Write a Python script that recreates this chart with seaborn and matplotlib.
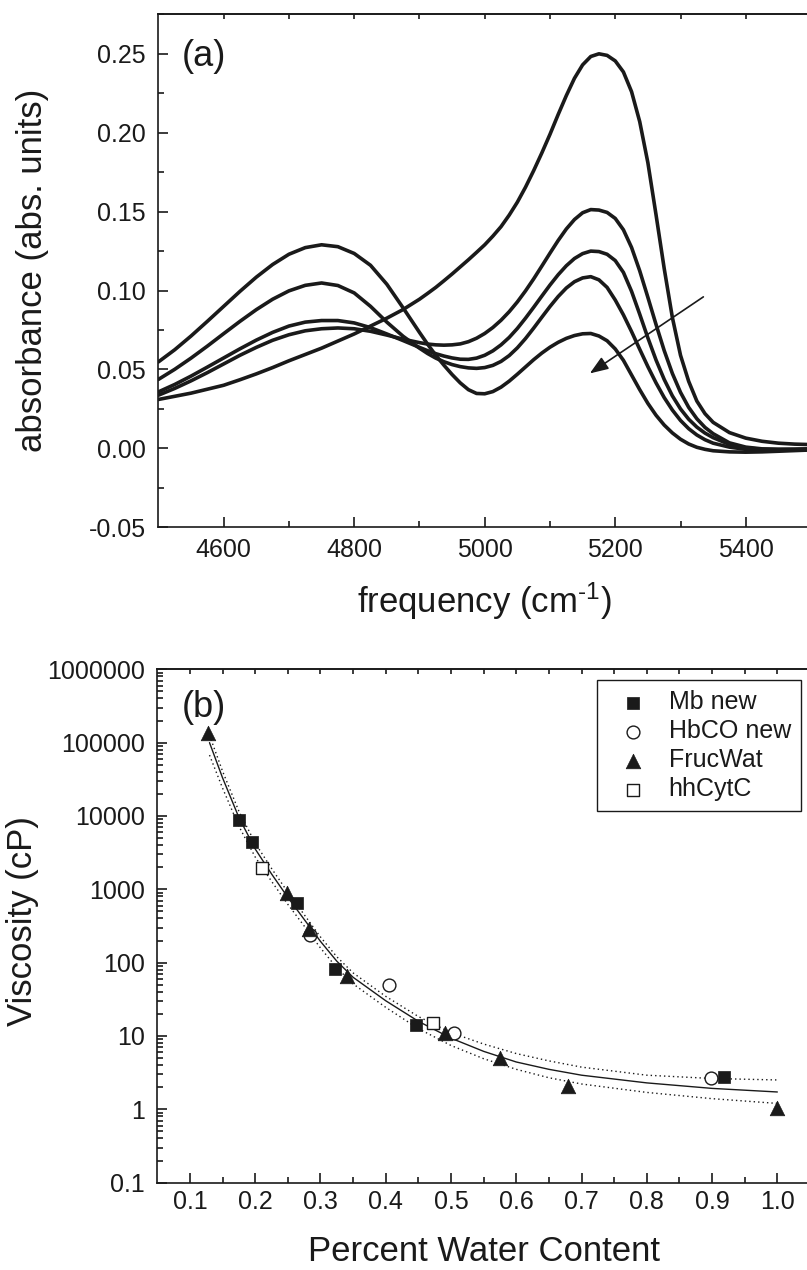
import numpy as np
import pandas as pd
import matplotlib
matplotlib.use('Agg')
import matplotlib.pyplot as plt
import seaborn as sns
from matplotlib.ticker import FixedLocator, LogLocator, FuncFormatter, NullFormatter

# ---------------- data: panel (a) absorbance spectra ----------------
# frequency grid: coarse on the flat parts, finer where the bands are
freq = np.concatenate([np.arange(4500, 4876, 25),
                       np.arange(4900, 5350.1, 12.5),
                       np.arange(5375, 5501, 25)])

abs_p25 = [.0310, .0330, .0350, .0375, .0400, .0435, .0472, .0512, .0555, .0595,
           .0635, .0680, .0725, .0775, .0825, .0880,
           .0945, .0982, .1020, .1062, .1105, .1150, .1195, .1242, .1290,
           .1345, .1405, .1478, .1560, .1655, .1760, .1872, .1990,
           .2115, .2235, .2345, .2430, .2483, .2500, .2490, .2455,
           .2385, .2260, .2070, .1810, .1480, .1140, .0830, .0590,
           .0425, .0300, .0220, .0165,
           .0100, .0065, .0045, .0033, .0027, .0024]
abs_p15 = [.0337, .0380, .0428, .0480, .0535, .0590, .0640, .0685, .0720, .0745,
           .0758, .0763, .0758, .0742, .0718, .0692,
           .0670, .0661, .0656, .0654, .0656, .0662, .0676, .0698, .0728,
           .0766, .0812, .0866, .0928, .0998, .1074, .1155, .1237,
           .1317, .1390, .1450, .1493, .1513, .1510, .1495, .1457,
           .1385, .1273, .1125, .0957, .0785, .0620, .0475, .0355,
           .0260, .0188, .0133, .0093,
           .0035, .0008, -.0003, -.0005, -.0005, -.0003]
abs_p125 = [.0358, .0405, .0458, .0515, .0573, .0631, .0686, .0735, .0775, .0800,
            .0810, .0810, .0795, .0765, .0725, .0683,
            .0640, .0619, .0600, .0585, .0573, .0565, .0564, .0572, .0590,
            .0618, .0656, .0703, .0760, .0825, .0894, .0965, .1035,
            .1100, .1157, .1203, .1234, .1250, .1247, .1230, .1190,
            .1115, .0995, .0850, .0700, .0560, .0437, .0333, .0250,
            .0185, .0135, .0097, .0068,
            .0025, .0003, -.0006, -.0008, -.0006, -.0004]
abs_p108 = [.0437, .0501, .0572, .0648, .0727, .0805, .0879, .0945, .0998, .1033,
            .1048, .1032, .0985, .0900, .0800, .0710,
            .0635, .0601, .0572, .0549, .0531, .0518, .0510, .0507, .0512,
            .0526, .0551, .0588, .0637, .0696, .0762, .0831, .0899,
            .0962, .1016, .1056, .1080, .1088, .1068, .1020, .0940,
            .0846, .0740, .0628, .0518, .0415, .0322, .0243, .0177,
            .0125, .0085, .0055, .0033,
            .0008, -.0006, -.0010, -.0011, -.0009, -.0007]
abs_p07 = [.0548, .0625, .0712, .0805, .0900, .0995, .1085, .1165, .1230, .1272,
           .1290, .1278, .1235, .1160, .1040, .0890,
           .0735, .0660, .0590, .0527, .0468, .0415, .0372, .0348, .0346,
           .0360, .0388, .0426, .0470, .0516, .0562, .0604, .0641,
           .0672, .0697, .0715, .0726, .0728, .0712, .0682, .0630,
           .0558, .0465, .0372, .0285, .0210, .0148, .0098, .0058,
           .0028, .0007, -.0006, -.0015,
           -.0022, -.0024, -.0022, -.0018, -.0014, -.0010]
sample_names = ['s1', 's2', 's3', 's4', 's5']

# arrow (start / end in data units)
arrow_start = (5335, 0.096)
arrow_end = (5161, 0.0475)

# ---------------- data: panel (b) viscosity ----------------
mb_x = [0.1756, 0.1955, 0.2634, 0.3226, 0.447, 0.919]
mb_y = [8700, 4400, 645, 81.5, 14.0, 2.73]
hbco_x = [0.2838, 0.405, 0.505, 0.899]
hbco_y = [235, 49, 11.1, 2.70]
fruc_x = [0.128, 0.249, 0.2828, 0.340, 0.4906, 0.575, 0.680, 1.0]
fruc_y = [136000, 880, 284, 66, 11.0, 4.97, 2.08, 1.03]
cytc_x = [0.2103, 0.4725]
cytc_y = [1945, 14.8]

# fit curve and its band (log10 of viscosity)
fit_x = [0.13, 0.15, 0.175, 0.2, 0.225, 0.25, 0.275, 0.3, 0.325, 0.35,
         0.4, 0.45, 0.5, 0.55, 0.6, 0.65, 0.7, 0.8, 0.9, 1.0]
fit_log = [5.00, 4.52, 3.98, 3.55, 3.21, 2.89, 2.59, 2.29, 2.02, 1.80,
           1.48, 1.20, 0.97, 0.79, 0.645, 0.545, 0.465, 0.36, 0.285, 0.236]
upper_log = [5.10, 4.61, 4.065, 3.63, 3.285, 2.96, 2.655, 2.35, 2.08, 1.86,
             1.54, 1.265, 1.045, 0.89, 0.76, 0.66, 0.575, 0.465, 0.42, 0.40]
lower_log = [4.83, 4.38, 3.86, 3.44, 3.11, 2.795, 2.50, 2.20, 1.93, 1.71,
             1.39, 1.10, 0.87, 0.69, 0.545, 0.43, 0.345, 0.23, 0.145, 0.08]

# ---------------- style ----------------
sns.set_theme(style='ticks', rc={'text.color': 'k', 'axes.labelcolor': 'k',
                                 'xtick.color': 'k', 'ytick.color': 'k',
                                 'axes.edgecolor': 'k'})
plt.rcParams['font.family'] = ['Liberation Sans', 'DejaVu Sans']
plt.rcParams['mathtext.fontset'] = 'custom'
plt.rcParams['mathtext.rm'] = 'Liberation Sans'
plt.rcParams['mathtext.it'] = 'Liberation Sans:italic'
plt.rcParams['axes.unicode_minus'] = False

fig = plt.figure(figsize=(8.07, 12.7), dpi=100)
ax1 = fig.add_axes([0.1963, 0.5848, 0.8087, 0.4039])
ax2 = fig.add_axes([0.1949, 0.0688, 0.8088, 0.4042])


def style_axis(ax, xpad):
    for sp in ax.spines.values():
        sp.set_linewidth(1.2)
        sp.set_color('k')
    ax.tick_params(which='both', direction='in', top=False, right=False,
                   labelsize=18, width=1.2)
    ax.tick_params(axis='y', which='both', pad=9)
    ax.tick_params(axis='x', which='both', pad=xpad)
    ax.tick_params(which='major', length=7.5)
    ax.tick_params(which='minor', length=4)


# ---------------- panel (a) ----------------
spectra = pd.DataFrame({
    'freq': np.tile(freq, 5),
    'absorbance': np.concatenate([abs_p25, abs_p15, abs_p125, abs_p108, abs_p07]),
    'sample': np.repeat(sample_names, len(freq)),
})
sns.lineplot(data=spectra, x='freq', y='absorbance', units='sample',
             estimator=None, color='k', lw=2.6, ax=ax1, legend=False)
ax1.annotate('', xy=arrow_end, xytext=arrow_start,
             arrowprops=dict(arrowstyle='-|>,head_length=0.8,head_width=0.3',
                             color='k', lw=1.2, mutation_scale=14,
                             shrinkA=0, shrinkB=0))
ax1.set_xlim(4500, 5500)
ax1.set_ylim(-0.05, 0.275)
style_axis(ax1, xpad=7.5)
ax1.xaxis.set_major_locator(FixedLocator([4600, 4800, 5000, 5200, 5400]))
ax1.xaxis.set_minor_locator(FixedLocator([4700, 4900, 5100, 5300]))
ax1.yaxis.set_major_locator(FixedLocator(np.arange(-0.05, 0.26, 0.05)))
ax1.yaxis.set_minor_locator(FixedLocator(np.arange(-0.025, 0.28, 0.05)))
ax1.yaxis.set_major_formatter(FuncFormatter(lambda v, p: f'{v:.2f}'))
sec1 = ax1.secondary_xaxis('top')
sec1.set_xticks(np.arange(4600, 5500, 100))
sec1.tick_params(direction='in', length=3.5, width=1.2, labeltop=False)
sec1.spines['top'].set_linewidth(1.2)
ax1.set_xlabel(r'frequency (cm$^{\text{-}1}$)', fontsize=25)
ax1.set_ylabel('absorbance (abs. units)', fontsize=25)
ax1.xaxis.set_label_coords(0.5, -0.103)
ax1.yaxis.set_label_coords(-0.168, 0.5)
ax1.text(0.036, 0.917, '(a)', transform=ax1.transAxes, fontsize=26,
         ha='left', va='center')

# ---------------- panel (b) ----------------
fit = pd.DataFrame({'x': fit_x,
                    'fit': np.power(10.0, fit_log),
                    'upper': np.power(10.0, upper_log),
                    'lower': np.power(10.0, lower_log)})
sns.lineplot(data=fit, x='x', y='fit', color='k', lw=1.0, ax=ax2)
sns.lineplot(data=fit, x='x', y='upper', color='k', lw=1.0,
             linestyle=(0, (1, 2.2)), ax=ax2)
sns.lineplot(data=fit, x='x', y='lower', color='k', lw=1.0,
             linestyle=(0, (1, 2.2)), ax=ax2)

sns.scatterplot(x=mb_x, y=mb_y, marker='s', s=64, color='k', edgecolor='k',
                linewidth=0.5, label='Mb new', ax=ax2, zorder=3)
sns.scatterplot(x=hbco_x, y=hbco_y, marker='o', s=85, facecolor='white',
                edgecolor='k', linewidth=1.0, label='HbCO new', ax=ax2, zorder=3)
sns.scatterplot(x=fruc_x, y=fruc_y, marker='^', s=110, color='k', edgecolor='k',
                linewidth=0.5, label='FrucWat', ax=ax2, zorder=3)
sns.scatterplot(x=cytc_x, y=cytc_y, marker='s', s=64, facecolor='white',
                edgecolor='k', linewidth=1.0, label='hhCytC', ax=ax2, zorder=3)

ax2.set_yscale('log')
ax2.set_xlim(0.05, 1.05)
ax2.set_ylim(0.1, 1e6)
style_axis(ax2, xpad=5.5)
ax2.xaxis.set_major_locator(FixedLocator(np.arange(0.1, 1.01, 0.1)))
ax2.xaxis.set_minor_locator(FixedLocator(np.arange(0.15, 1.05, 0.1)))
ax2.xaxis.set_major_formatter(FuncFormatter(lambda v, p: f'{v:.1f}'))
ax2.yaxis.set_major_locator(LogLocator(base=10, numticks=20))
ax2.yaxis.set_minor_locator(LogLocator(base=10, subs=np.arange(2, 10), numticks=20))
ax2.yaxis.set_minor_formatter(NullFormatter())
ax2.yaxis.set_major_formatter(FuncFormatter(
    lambda v, p: f'{v:.0f}' if v >= 1 else f'{v:g}'))
sec2 = ax2.secondary_xaxis('top')
sec2.set_xticks(np.arange(0.1, 1.05, 0.05))
sec2.tick_params(direction='in', length=3.5, width=1.2, labeltop=False)
sec2.spines['top'].set_linewidth(1.2)
ax2.set_xlabel('Percent Water Content', fontsize=25)
ax2.set_ylabel('Viscosity (cP)', fontsize=25)
ax2.xaxis.set_label_coords(0.5, -0.103)
ax2.yaxis.set_label_coords(-0.181, 0.51)
ax2.text(0.037, 0.925, '(b)', transform=ax2.transAxes, fontsize=26,
         ha='left', va='center')

leg = ax2.legend(loc='upper right', bbox_to_anchor=(0.986, 0.979), fontsize=18,
                 frameon=True, fancybox=False, edgecolor='k', framealpha=1,
                 borderpad=0.4, handlelength=2.1, handletextpad=0.36,
                 labelspacing=0.2, borderaxespad=0)
leg.get_frame().set_linewidth(1.0)

fig.savefig('out.png', dpi=100)
